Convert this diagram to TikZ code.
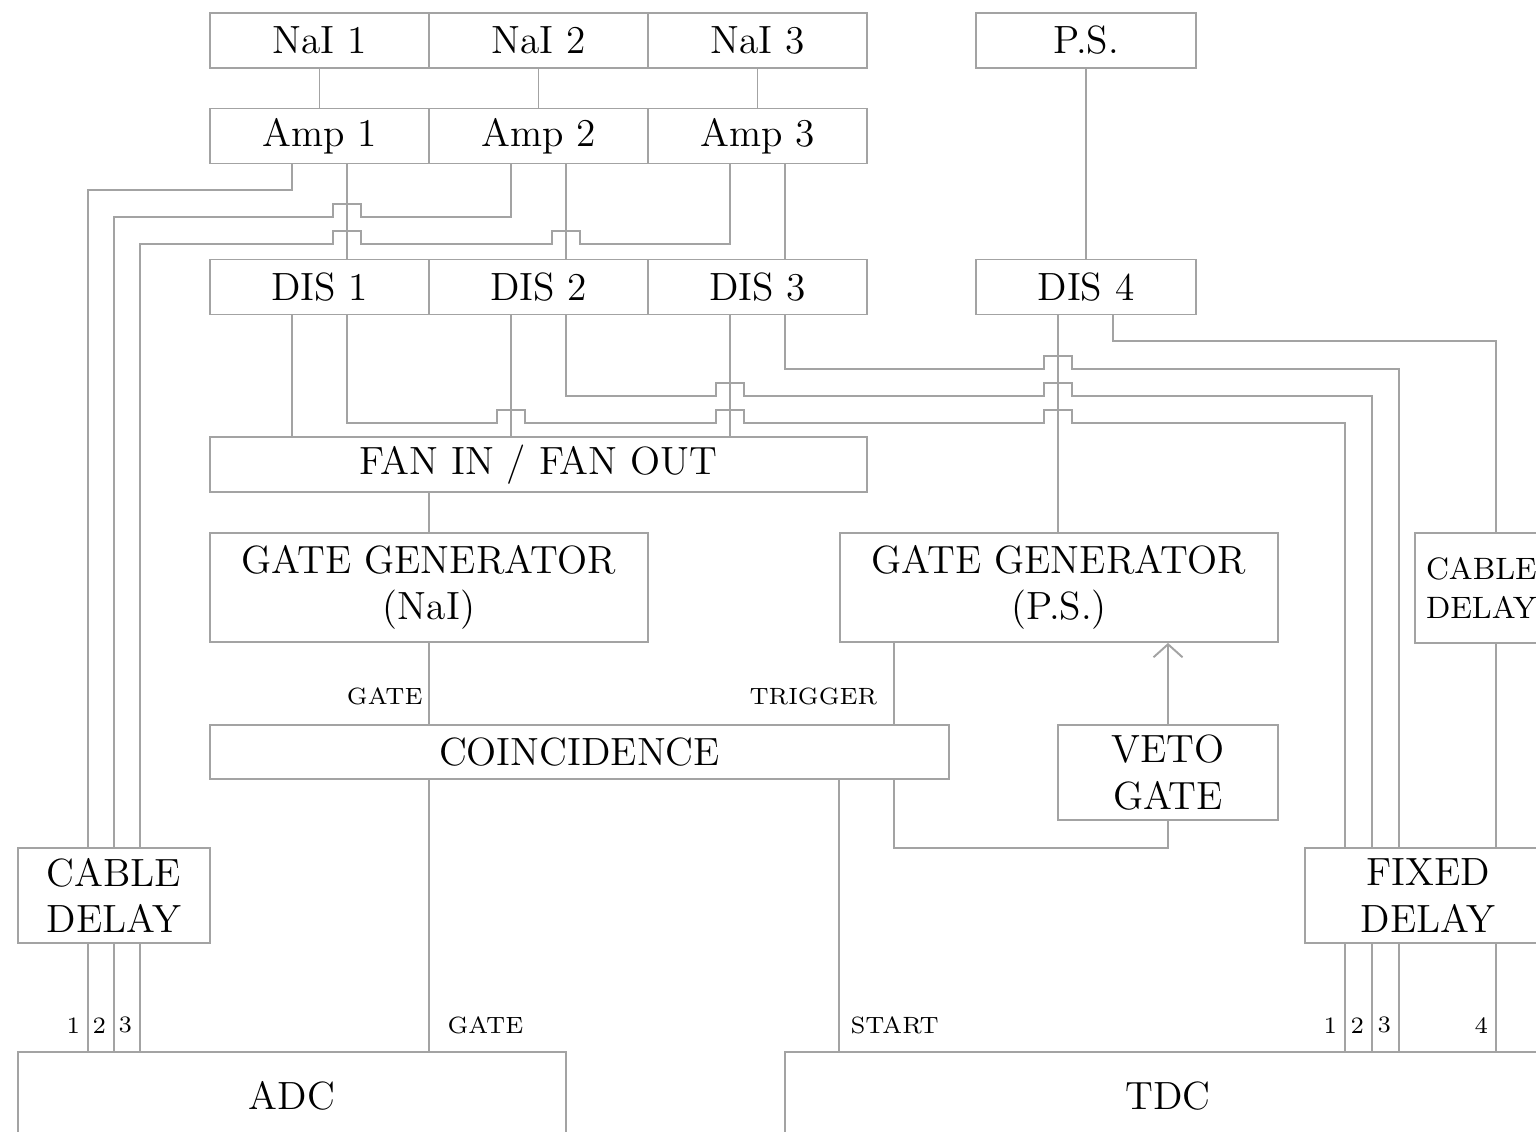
\documentclass[tikz,border=0pt]{standalone}
\usetikzlibrary{calc,arrows.meta}

\definecolor{wiregray}{gray}{0.64}

% bridge over a vertical wire, for a wire running right or left
\newcommand{\hopright}[2]{-- ($(#1 |- #2)+(-0.14,0)$) -- ++(0,0.13) -- ++(0.28,0) -- ++(0,-0.13)}
\newcommand{\hopleft}[2]{-- ($(#1 |- #2)+(0.14,0)$) -- ++(0,0.13) -- ++(-0.28,0) -- ++(0,-0.13)}

\begin{document}
\begin{tikzpicture}[
        box/.style={
            rectangle,
            draw=wiregray,
            line width=0.55pt,
            align=center,
            inner sep=0pt,
            text=black,
            font=\fontsize{11.2}{13.3}\selectfont
        },
        slot/.style={
            box,
            minimum width=2.19cm,
            minimum height=0.55cm
        },
        wire/.style={
            draw=wiregray,
            line width=0.55pt
        },
        tag/.style={
            font=\fontsize{6.7}{8}\selectfont,
            text=black,
            inner sep=2pt
        }
    ]

        \fill[white] (0,0) rectangle (15.36,-11.32);
        \useasboundingbox (0,0) rectangle (15.36,-11.32);
        \clip (0,0) rectangle (15.36,-11.32);

        \node[slot] (nai1) at (3.195,-0.405) {NaI 1};
        \node[slot] (nai2) at (5.385,-0.405) {NaI 2};
        \node[slot] (nai3) at (7.575,-0.405) {NaI 3};
        \node[slot, minimum width=2.20cm] (ps) at (10.86,-0.405) {P.S.};

        \node[slot] (amp1) at (3.195,-1.36) {Amp 1};
        \node[slot] (amp2) at (5.385,-1.36) {Amp 2};
        \node[slot] (amp3) at (7.575,-1.36) {Amp 3};

        \node[slot] (dis1) at (3.195,-2.87) {DIS 1};
        \node[slot] (dis2) at (5.385,-2.87) {DIS 2};
        \node[slot] (dis3) at (7.575,-2.87) {DIS 3};
        \node[slot, minimum width=2.20cm] (dis4) at (10.86,-2.87) {DIS 4};

        \node[box, minimum width=6.57cm, minimum height=0.55cm] (fan) at (5.385,-4.645) {FAN IN / FAN OUT};
        \node[box, minimum width=4.38cm, minimum height=1.09cm] (ggnai) at (4.29,-5.875) {GATE GENERATOR\\(NaI)};
        \node[box, minimum width=4.38cm, minimum height=1.09cm] (ggps) at (10.59,-5.875) {GATE GENERATOR\\(P.S.)};
        \node[box, minimum width=1.62cm, minimum height=1.10cm, text width=1.40cm, align=left,
              font=\fontsize{8.8}{11.3}\selectfont] (cdr) at (14.96,-5.88) {CABLE\\DELAY};

        \node[box, minimum width=7.39cm, minimum height=0.54cm] (coin) at (5.795,-7.52) {COINCIDENCE};
        \node[box, minimum width=2.20cm, minimum height=0.95cm] (veto) at (11.68,-7.725) {VETO\\GATE};

        \node[box, minimum width=1.92cm, minimum height=0.95cm] (cdl) at (1.14,-8.955) {CABLE\\DELAY};
        \node[box, minimum width=2.46cm, minimum height=0.95cm] (fixed) at (14.28,-8.955) {FIXED\\DELAY};

        \node[box, minimum width=5.48cm, minimum height=0.88cm] (adc) at (2.92,-10.96) {ADC};
        \node[box, minimum width=7.66cm, minimum height=0.88cm] (tdc) at (11.68,-10.96) {TDC};

        % ports
        \coordinate (amp1l) at ([xshift=-2.75mm]amp1.south);
        \coordinate (amp1r) at ([xshift=2.75mm]amp1.south);
        \coordinate (amp2l) at ([xshift=-2.75mm]amp2.south);
        \coordinate (amp2r) at ([xshift=2.75mm]amp2.south);
        \coordinate (amp3l) at ([xshift=-2.75mm]amp3.south);
        \coordinate (amp3r) at ([xshift=2.75mm]amp3.south);
        \coordinate (dis1l) at ([xshift=-2.75mm]dis1.south);
        \coordinate (dis1r) at ([xshift=2.75mm]dis1.south);
        \coordinate (dis2l) at ([xshift=-2.75mm]dis2.south);
        \coordinate (dis2r) at ([xshift=2.75mm]dis2.south);
        \coordinate (dis3l) at ([xshift=-2.75mm]dis3.south);
        \coordinate (dis3r) at ([xshift=2.75mm]dis3.south);
        \coordinate (dis4l) at ([xshift=-2.8mm]dis4.south);
        \coordinate (dis4r) at ([xshift=2.7mm]dis4.south);
        \coordinate (cin1) at ([xshift=-2.6mm]cdl.north);
        \coordinate (cin2) at (cdl.north);
        \coordinate (cin3) at ([xshift=2.6mm]cdl.north);
        \coordinate (cout1) at ([xshift=-2.6mm]cdl.south);
        \coordinate (cout2) at (cdl.south);
        \coordinate (cout3) at ([xshift=2.6mm]cdl.south);
        \coordinate (fin1) at ([xshift=-8.3mm]fixed.north);
        \coordinate (fin2) at ([xshift=-5.6mm]fixed.north);
        \coordinate (fin3) at ([xshift=-2.9mm]fixed.north);
        \coordinate (fin4) at (cdr.south |- fixed.north);
        \coordinate (fout1) at ([xshift=-8.3mm]fixed.south);
        \coordinate (fout2) at ([xshift=-5.6mm]fixed.south);
        \coordinate (fout3) at ([xshift=-2.9mm]fixed.south);
        \coordinate (fout4) at (cdr.south |- fixed.south);
        \coordinate (trig) at ([xshift=-16.5mm]ggps.south);
        \coordinate (start) at ([xshift=5.5mm]tdc.north west);

        % wire levels
        \coordinate (ya1) at (0,-1.90);
        \coordinate (ya2) at (0,-2.17);
        \coordinate (ya3) at (0,-2.44);
        \coordinate (yd4) at (0,-3.41);
        \coordinate (yd3) at (0,-3.69);
        \coordinate (yd2) at (0,-3.96);
        \coordinate (yd1) at (0,-4.23);
        \coordinate (yv) at (0,-8.48);

        % detectors
        \draw[wire] (nai1.south) -- (amp1.north);
        \draw[wire] (nai2.south) -- (amp2.north);
        \draw[wire] (nai3.south) -- (amp3.north);
        \draw[wire] (ps.south) -- (dis4.north);

        % amplifiers
        \draw[wire] (amp1r) -- (amp1r |- dis1.north);
        \draw[wire] (amp2r) -- (amp2r |- dis2.north);
        \draw[wire] (amp3r) -- (amp3r |- dis3.north);
        \draw[wire] (amp1l) |- (cin1 |- ya1) -- (cin1);
        \draw[wire] (amp2l) -- (amp2l |- ya2) \hopleft{amp1r}{ya2} -- (cin2 |- ya2) -- (cin2);
        \draw[wire] (amp3l) -- (amp3l |- ya3) \hopleft{amp2r}{ya3} \hopleft{amp1r}{ya3} -- (cin3 |- ya3) -- (cin3);

        % discriminators
        \draw[wire] (dis1l) -- (dis1l |- fan.north);
        \draw[wire] (dis2l) -- (dis2l |- fan.north);
        \draw[wire] (dis3l) -- (dis3l |- fan.north);
        \draw[wire] (dis4l) -- (dis4l |- ggps.north);
        \draw[wire] (dis1r) -- (dis1r |- yd1) \hopright{dis2l}{yd1} \hopright{dis3l}{yd1} \hopright{dis4l}{yd1} -- (fin1 |- yd1) -- (fin1);
        \draw[wire] (dis2r) -- (dis2r |- yd2) \hopright{dis3l}{yd2} \hopright{dis4l}{yd2} -- (fin2 |- yd2) -- (fin2);
        \draw[wire] (dis3r) -- (dis3r |- yd3) \hopright{dis4l}{yd3} -- (fin3 |- yd3) -- (fin3);
        \draw[wire] (dis4r) -- (dis4r |- yd4) -| (cdr.north);
        \draw[wire] (cdr.south) -- (fin4);

        % gates and trigger
        \draw[wire] (ggnai.north |- fan.south) -- (ggnai.north);
        \draw[wire] (ggnai.south) -- node[tag, pos=0.66, anchor=east, inner sep=1.5pt] (lgate) {GATE} (ggnai.south |- coin.north);
        \draw[wire] (trig) -- node[tag, pos=0.66, anchor=east, inner sep=4.5pt] (ltrig) {TRIGGER} (trig |- coin.north);
        \draw[wire] (trig |- coin.south) |- (veto.south |- yv) -- (veto.south);
        \draw[wire, -{Straight Barb[length=1.3mm, width=2.9mm]}] (veto.north) -- (veto.north |- ggps.south);

        % to ADC and TDC
        \draw[wire] (ggnai.south |- coin.south) -- node[tag, pos=0.905, anchor=west, inner sep=5pt] (ladcgate) {GATE} (ggnai.south |- adc.north);
        \draw[wire] (start |- coin.south) -- node[tag, pos=0.905, anchor=west, inner sep=3pt] (lstart) {START} (start);
        \draw[wire] (cout1) -- node[tag, pos=0.76, anchor=east] (la1) {1} (cout1 |- adc.north);
        \draw[wire] (cout2) -- node[tag, pos=0.76, anchor=east] (la2) {2} (cout2 |- adc.north);
        \draw[wire] (cout3) -- node[tag, pos=0.76, anchor=east] (la3) {3} (cout3 |- adc.north);
        \draw[wire] (fout1) -- node[tag, pos=0.76, anchor=east] (lt1) {1} (fout1 |- tdc.north);
        \draw[wire] (fout2) -- node[tag, pos=0.76, anchor=east] (lt2) {2} (fout2 |- tdc.north);
        \draw[wire] (fout3) -- node[tag, pos=0.76, anchor=east] (lt3) {3} (fout3 |- tdc.north);
        \draw[wire] (fout4) -- node[tag, pos=0.76, anchor=east] (lt4) {4} (fout4 |- tdc.north);

    \end{tikzpicture}
\end{document}
